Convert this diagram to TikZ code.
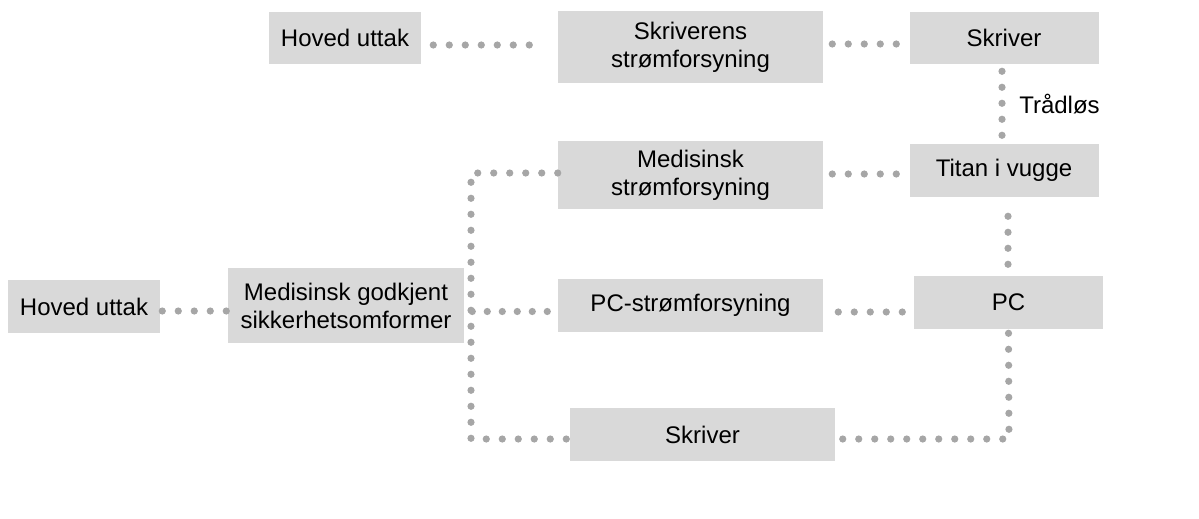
\documentclass[tikz,border=0pt]{standalone}
\usepackage{fontspec}
\setmainfont{Liberation Sans}
\usetikzlibrary{calc}
\definecolor{boxgray}{RGB}{217,217,217}
\definecolor{dotgray}{RGB}{166,166,166}

\begin{document}
\begin{tikzpicture}[x=0.75pt,y=0.75pt,yscale=-1,xscale=1,
	unit/.style={fill=boxgray, inner sep=0pt, align=center, font=\fontsize{18}{21}\selectfont},
	link/.style={draw=dotgray, line width=5.4pt, line cap=round, dash pattern=on 0pt off 12pt}]
	\useasboundingbox (0,0) rectangle (1199,518);
	
	% Text Node
	\node[unit, minimum width=114pt, minimum height=39pt] (mainup) at (345,38) {Hoved uttak};
	% Text Node
	\node[unit, minimum width=198.75pt, minimum height=54pt] (psupply) at (690.5,47) {Skriverens\\strømforsyning};
	% Text Node
	\node[unit, minimum width=141.75pt, minimum height=39pt] (printer) at (1004,38) {Skriver};
	% Text Node
	\node[unit, minimum width=141.75pt, minimum height=39.75pt] (cradle) at (1004,170) {Titan i vugge};
	% Text Node
	\node[unit, minimum width=198.75pt, minimum height=51pt] (medsupply) at (690.5,175) {Medisinsk\\strømforsyning};
	% Text Node
	\node[unit, minimum width=114pt, minimum height=39.75pt] (mainleft) at (84,306.5) {Hoved uttak};
	% Text Node
	\node[unit, minimum width=177pt, minimum height=56.25pt] (trafo) at (346,305.5) {Medisinsk godkjent\\sikkerhetsomformer};
	% Text Node
	\node[unit, minimum width=198.75pt, minimum height=39.75pt] (pcsupply) at (690.5,305.5) {PC-strømforsyning};
	% Text Node
	\node[unit, minimum width=141.75pt, minimum height=39.75pt] (pc) at (1008.5,302.5) {PC};
	% Text Node
	\node[unit, minimum width=198.75pt, minimum height=39.75pt] (lowprinter) at (702.5,434.5) {Skriver};
	% Text Node
	\node[anchor=west, inner sep=0pt, font=\fontsize{18}{21}\selectfont] (wireless) at (1019,104) {Trådløs};
	
	% Bends
	\coordinate (bustop) at (471,173);
	\coordinate (busbot) at (471,439);
	\coordinate (pccorner) at (1009,439);
	
	% Connection
	\draw[link] ($(mainup.east)+(12,7)$) -- ($(psupply.west)+(-25.5,-2)$);
	% Connection
	\draw[link] ($(psupply.east)+(9,-3)$) -- ($(printer.west)+(-10.5,6)$);
	% Connection
	\draw[link] ($(printer.south)+(-2,7)$) -- ($(cradle.north)+(-2,-6.5)$);
	% Connection
	\draw[link] ($(medsupply.east)+(9,-1)$) -- ($(cradle.west)+(-9.5,4)$);
	% Connection
	\draw[link] ($(medsupply.west)+(0,-2)$) -- (bustop) -- (busbot) -- ($(lowprinter.west)+(0.5,4.5)$);
	% Connection
	\draw[link] ($(mainleft.east)+(2,4.5)$) -- ($(trafo.west)+(-0.5,5.5)$);
	% Connection
	\draw[link, dash pattern=on 0pt off 11.25pt] ($(trafo.east)+(8,6)$) -- ($(pcsupply.west)+(-9.5,6)$);
	% Connection
	\draw[link] ($(pcsupply.east)+(15,6.5)$) -- ($(pc.west)+(-9.5,9.5)$);
	% Connection
	\draw[link] ($(cradle.south)+(4,19.5)$) -- ($(pc.north)+(-0.5,-10.5)$);
	% Connection
	\draw[link] ($(pc.south)+(0,4)$) -- (pccorner) -- ($(lowprinter.east)+(2,4.5)$);
	
\end{tikzpicture}
\end{document}
